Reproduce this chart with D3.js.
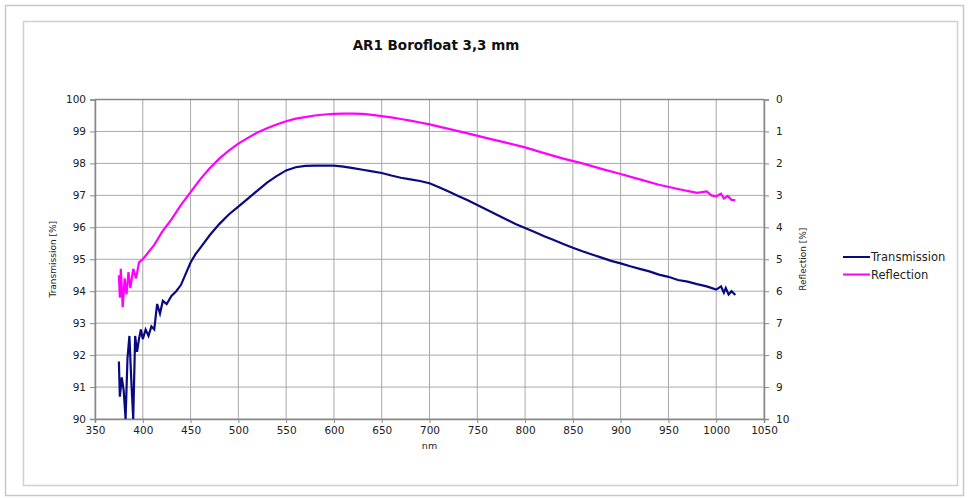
<!DOCTYPE html>
<html>
<head>
<meta charset="utf-8">
<script src="https://cdn.jsdelivr.net/npm/d3@7"></script>
<style>
  body { margin: 0; background: #fff; }
  text { font-family: "DejaVu Sans", Verdana, sans-serif; }
</style>
</head>
<body>
<div id="container"></div>
<script>
// Width and height
let w = 968;
let h = 499;

// Transmission [%]
let transNm = [375, 376, 378, 380, 382, 384, 386, 388, 390, 392, 394, 396, 398, 400, 403, 406, 409, 412, 415, 418, 421, 425,
  430, 435, 440, 445, 450, 455, 460, 470, 480, 490, 500, 510, 520, 530, 540, 550, 560, 570, 580, 590, 600, 610, 620, 630,
  640, 650, 660, 670, 680, 690, 700, 710, 720, 730, 740, 750, 760, 770, 780, 790, 800, 810, 820, 830, 840, 850, 860, 870,
  880, 890, 900, 910, 920, 930, 940, 950, 960, 970, 980, 990, 1000, 1005, 1008, 1010, 1013, 1016, 1020];
let transVal = [91.8, 90.7, 91.3, 90.9, 90.0, 91.9, 92.6, 91.2, 90.0, 92.6, 92.1, 92.5, 92.8, 92.5, 92.8, 92.6, 92.9, 92.8, 93.6, 93.3, 93.7, 93.6,
  93.85, 94.0, 94.2, 94.55, 94.9, 95.15, 95.35, 95.75, 96.1, 96.4, 96.65, 96.9, 97.15, 97.4, 97.6, 97.78, 97.88, 97.92, 97.93, 97.93, 97.93, 97.9, 97.85, 97.8,
  97.75, 97.7, 97.62, 97.55, 97.5, 97.45, 97.38, 97.25, 97.12, 96.98, 96.85, 96.7, 96.55, 96.4, 96.25, 96.1, 95.98, 95.85, 95.72, 95.6, 95.48, 95.36, 95.25, 95.15,
  95.05, 94.95, 94.87, 94.78, 94.7, 94.62, 94.52, 94.45, 94.35, 94.3, 94.22, 94.15, 94.05, 94.15, 93.95, 94.1, 93.9, 94.0, 93.88];

// Reflection [%]
let reflNm = [375, 376, 377, 379, 381, 383, 385, 387, 390, 393, 396, 400, 404, 408, 412, 416, 420, 430, 440, 450, 460, 470,
  480, 490, 500, 510, 520, 530, 540, 550, 560, 570, 580, 590, 600, 610, 620, 630, 640, 650, 660, 670, 680, 690, 700, 720,
  740, 760, 780, 800, 820, 840, 860, 880, 900, 920, 940, 960, 980, 990, 995, 1000, 1005, 1008, 1012, 1016, 1020];
let reflVal = [5.5, 6.2, 5.3, 6.5, 5.6, 6.1, 5.4, 5.9, 5.3, 5.6, 5.1, 5.0, 4.85, 4.7, 4.55, 4.35, 4.15, 3.75, 3.3, 2.9, 2.5, 2.15,
  1.85, 1.6, 1.38, 1.2, 1.03, 0.9, 0.78, 0.68, 0.6, 0.55, 0.5, 0.47, 0.45, 0.44, 0.44, 0.45, 0.48, 0.52, 0.56, 0.61, 0.66, 0.72, 0.78, 0.92,
  1.06, 1.21, 1.35, 1.5, 1.68, 1.85, 2.0, 2.17, 2.33, 2.5, 2.67, 2.8, 2.92, 2.88, 3.0, 3.03, 2.95, 3.1, 3.02, 3.14, 3.15];

let xTicks = d3.range(350, 1051, 50);
let leftTicks = d3.range(90, 101, 1);
let rightTicks = d3.range(0, 11, 1);
let seriesNames = ["Transmission", "Reflection"];
let seriesColors = ["#0a0a80", "#ff00ff"];

// Plot box
let pLeft = 95, pRight = 764, pTop = 99.5, pBottom = 419;

let x = d3.scaleLinear().domain([350, 1050]).range([pLeft, pRight]);
let yT = d3.scaleLinear().domain([90, 100]).range([pBottom, pTop]);
let yR = d3.scaleLinear().domain([0, 10]).range([pTop, pBottom]);

let svg = d3.select("#container")
  .append("svg")
  .attr("width", w)
  .attr("height", h);

// outer frames
svg.append("rect").attr("x", 5.5).attr("y", 5.5).attr("width", 958).attr("height", 490)
  .attr("fill", "#fff").attr("stroke", "#c8c8c8").attr("stroke-width", 1.5);
svg.append("rect").attr("x", 23.5).attr("y", 21.5).attr("width", 934).attr("height", 464)
  .attr("fill", "#fff").attr("stroke", "#d0d0d0").attr("stroke-width", 1.5);

// Title
svg.append("text").attr("x", 436).attr("y", 50).attr("text-anchor", "middle")
  .style("font-size", "13.5px").style("font-weight", "bold").attr("fill", "#111").text("AR1 Borofloat 3,3 mm");

// gridlines
let grid = svg.append("g").attr("stroke", "#a8a8a8").attr("stroke-width", 1);
grid.selectAll(".vg").data(xTicks).enter().append("line")
  .attr("x1", d => x(d)).attr("x2", d => x(d)).attr("y1", pTop).attr("y2", pBottom);
grid.selectAll(".hg").data(leftTicks).enter().append("line")
  .attr("x1", pLeft).attr("x2", pRight).attr("y1", d => yT(d)).attr("y2", d => yT(d));

// axes
let fmt = d3.format("d");
let xAxis = svg.append("g").attr("transform", "translate(0," + pBottom + ")")
  .call(d3.axisBottom(x).tickValues(xTicks).tickFormat(fmt).tickSize(4).tickPadding(4));
let lAxis = svg.append("g").attr("transform", "translate(" + pLeft + ",0)")
  .call(d3.axisLeft(yT).tickValues(leftTicks).tickFormat(fmt).tickSize(5).tickPadding(4));
let rAxis = svg.append("g").attr("transform", "translate(" + pRight + ",0)")
  .call(d3.axisRight(yR).tickValues(rightTicks).tickFormat(fmt).tickSize(5).tickPadding(7));
[xAxis, lAxis, rAxis].forEach(function(a) {
  a.select(".domain").attr("stroke", "#888").attr("stroke-width", 1.5);
  a.selectAll(".tick line").attr("stroke", "#888");
  a.selectAll("text").style("font-size", "10.5px").attr("fill", "#222").style("font-family", "'DejaVu Sans', Verdana, sans-serif");
});

// plot top border
svg.append("line").attr("x1", pLeft).attr("x2", pRight).attr("y1", pTop).attr("y2", pTop)
  .attr("stroke", "#888").attr("stroke-width", 1.5);

// axis titles
svg.append("text").attr("x", (pLeft + pRight) / 2).attr("y", 449).attr("text-anchor", "middle")
  .style("font-size", "9.5px").attr("fill", "#222").text("nm");
svg.append("text").attr("transform", "translate(56," + ((pTop + pBottom) / 2) + ") rotate(-90)")
  .attr("text-anchor", "middle").style("font-size", "9px").attr("fill", "#222").text("Transmission [%]");
svg.append("text").attr("transform", "translate(806," + ((pTop + pBottom) / 2) + ") rotate(-90)")
  .attr("text-anchor", "middle").style("font-size", "9px").attr("fill", "#222").text("Reflection [%]");

// clip
svg.append("clipPath").attr("id", "clip").append("rect")
  .attr("x", pLeft).attr("y", pTop).attr("width", pRight - pLeft).attr("height", pBottom - pTop);

let transLine = d3.line().x(d => x(d[0])).y(d => yT(d[1]));
let reflLine = d3.line().x(d => x(d[0])).y(d => yR(d[1]));

svg.append("path").datum(d3.zip(transNm, transVal))
  .attr("clip-path", "url(#clip)")
  .attr("d", transLine).attr("fill", "none").attr("stroke", seriesColors[0]).attr("stroke-width", 2.2);
svg.append("path").datum(d3.zip(reflNm, reflVal))
  .attr("clip-path", "url(#clip)")
  .attr("d", reflLine).attr("fill", "none").attr("stroke", seriesColors[1]).attr("stroke-width", 2.2);

// legend
let legend = svg.append("g").attr("transform", "translate(843,257)");
seriesNames.forEach(function(name, i) {
  let g = legend.append("g").attr("transform", "translate(0," + (i * 17.5) + ")");
  g.append("line").attr("x1", 0).attr("x2", 27).attr("y1", 0).attr("y2", 0)
    .attr("stroke", seriesColors[i]).attr("stroke-width", 2);
  g.append("text").attr("x", 28).attr("y", 4).style("font-size", "11.5px").attr("fill", "#222").text(name);
});
</script>
</body>
</html>
